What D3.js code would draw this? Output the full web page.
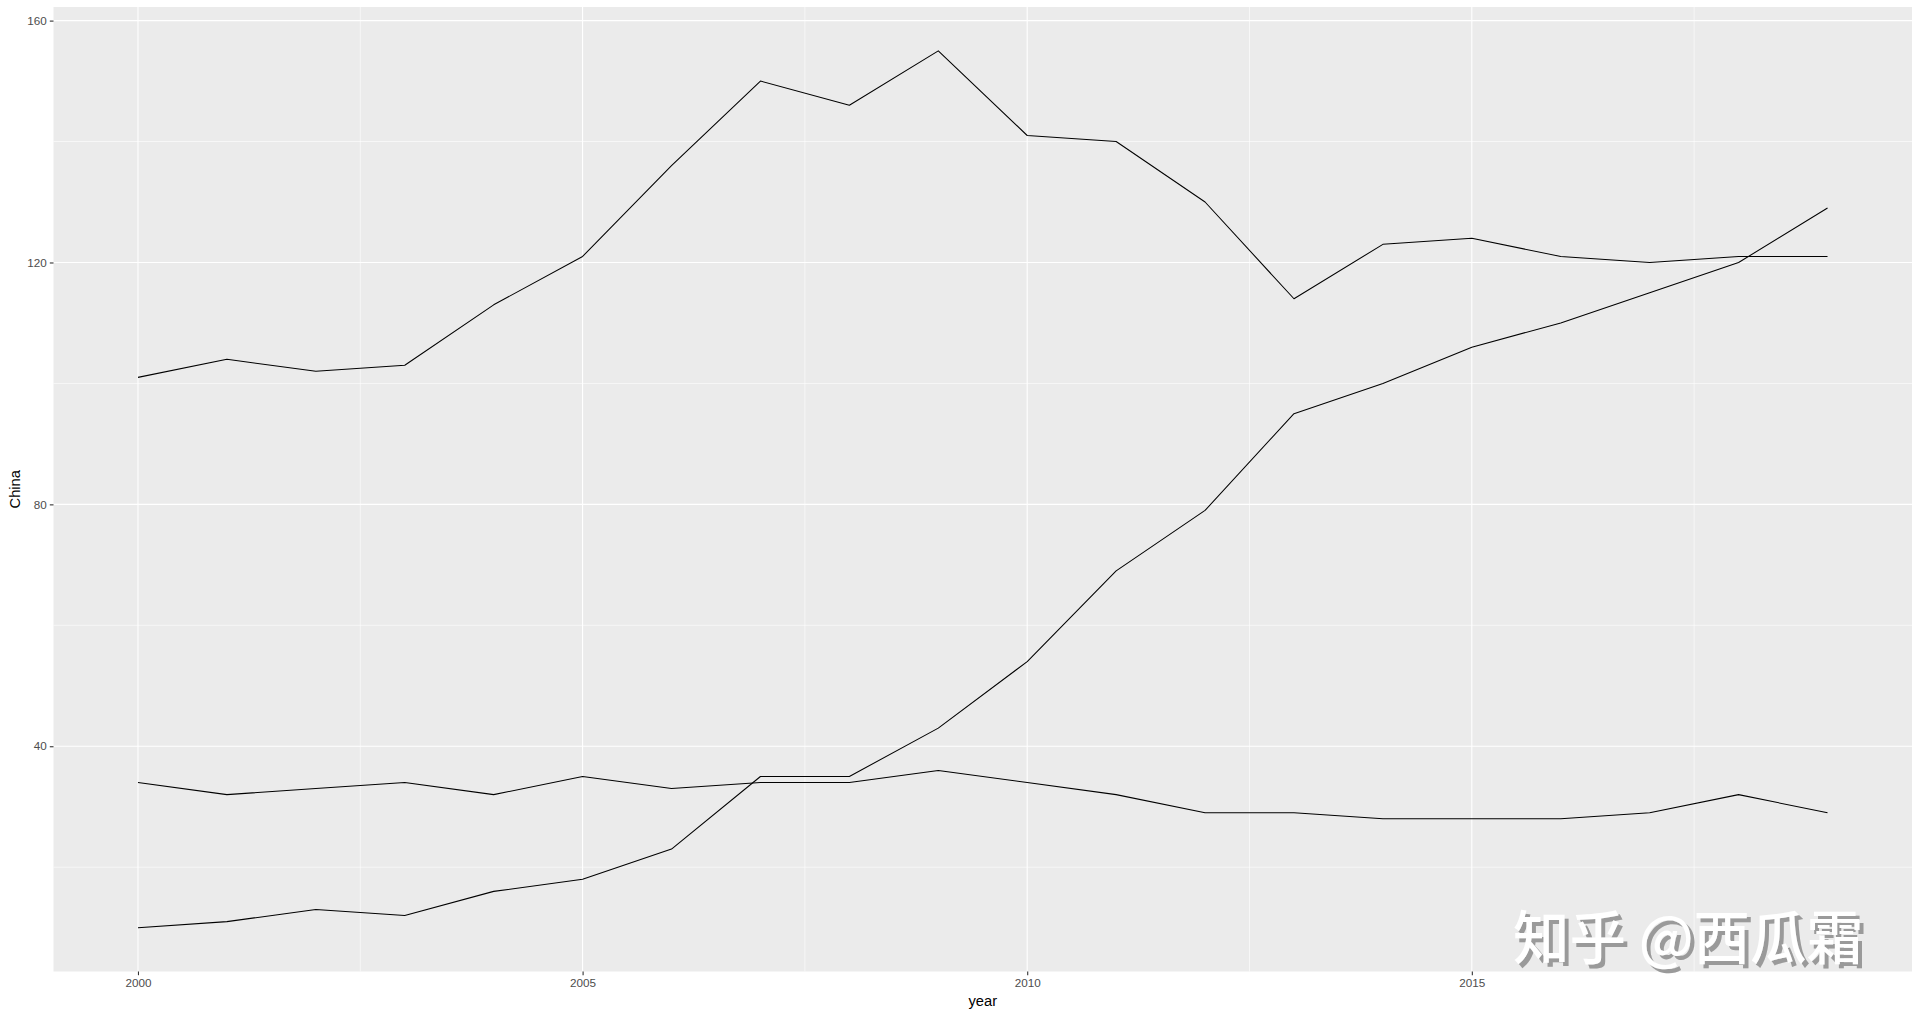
<!DOCTYPE html>
<html>
<head>
<meta charset="utf-8">
<script src="https://cdn.jsdelivr.net/npm/d3@7"></script>
<style>
  html, body { margin: 0; padding: 0; background: #fff; }
  svg { display: block; }
</style>
</head>
<body>
<svg id="chart" width="1920" height="1017"></svg>
<script>
const years = [2000,2001,2002,2003,2004,2005,2006,2007,2008,2009,2010,2011,2012,2013,2014,2015,2016,2017,2018,2019];
const seriesA = [101,104,102,103,113,121,136,150,146,155,141,140,130,114,123,124,121,120,121,121];
const seriesB = [10,11,13,12,16,18,23,35,35,43,54,69,79,95,100,106,110,115,120,129];
const seriesC = [34,32,33,34,32,35,33,34,34,36,34,32,29,29,28,28,28,29,32,29];
const xTicks = [2000,2005,2010,2015];
const xMinor = [2002.5,2007.5,2012.5,2017.5];
const yTicks = [40,80,120,160];
const yMinor = [20,60,100,140];
const xTitle = "year";
const yTitle = "China";
const watermark = "知乎 @西瓜霜";

const svg = d3.select("#chart");
const panel = {left: 53.5, top: 7, right: 1912, bottom: 971.5};

const defs = svg.append("defs");
const f = defs.append("filter").attr("id", "wmshadow").attr("x", "-10%").attr("y", "-20%").attr("width", "130%").attr("height", "150%");
f.append("feDropShadow").attr("dx", 4).attr("dy", 4).attr("stdDeviation", 0).attr("flood-color", "#9a9a9a").attr("flood-opacity", 1);

// ggplot-style 5% expansion
const allVals = seriesA.concat(seriesB, seriesC);
const yMin = d3.min(allVals), yMax = d3.max(allVals);
const yPad = (yMax - yMin) * 0.05;
const xPad = (d3.max(years) - d3.min(years)) * 0.05;

const x = d3.scaleLinear().domain([d3.min(years) - xPad, d3.max(years) + xPad]).range([panel.left, panel.right]);
const y = d3.scaleLinear().domain([yMin - yPad, yMax + yPad]).range([panel.bottom, panel.top]);

svg.append("rect").attr("x", panel.left).attr("y", panel.top)
  .attr("width", panel.right - panel.left).attr("height", panel.bottom - panel.top)
  .attr("fill", "#EBEBEB");

const grid = svg.append("g");
grid.selectAll(".ymin").data(yMinor).join("line")
  .attr("x1", panel.left).attr("x2", panel.right)
  .attr("y1", d => y(d)).attr("y2", d => y(d))
  .attr("stroke", "#fff").attr("stroke-width", 0.6);
grid.selectAll(".xmin").data(xMinor).join("line")
  .attr("y1", panel.top).attr("y2", panel.bottom)
  .attr("x1", d => x(d)).attr("x2", d => x(d))
  .attr("stroke", "#fff").attr("stroke-width", 0.6);
grid.selectAll(".ymaj").data(yTicks).join("line")
  .attr("x1", panel.left).attr("x2", panel.right)
  .attr("y1", d => y(d)).attr("y2", d => y(d))
  .attr("stroke", "#fff").attr("stroke-width", 1.1);
grid.selectAll(".xmaj").data(xTicks).join("line")
  .attr("y1", panel.top).attr("y2", panel.bottom)
  .attr("x1", d => x(d)).attr("x2", d => x(d))
  .attr("stroke", "#fff").attr("stroke-width", 1.1);

const line = d3.line().x((d, i) => x(years[i])).y(d => y(d));
[seriesA, seriesB, seriesC].forEach(s => {
  svg.append("path").datum(s).attr("d", line)
    .attr("fill", "none").attr("stroke", "#000").attr("stroke-width", 1.05)
    .attr("stroke-linejoin", "round");
});

// axes
const font = "'Liberation Sans', Arial, sans-serif";
const xAxis = d3.axisBottom(x).tickValues(xTicks).tickFormat(d3.format("d")).tickSize(3.7).tickPadding(3);
const gx = svg.append("g").attr("transform", `translate(0,${panel.bottom})`).call(xAxis);
gx.select(".domain").remove();
gx.selectAll("line").attr("stroke", "#333").attr("stroke-width", 1.1);
gx.selectAll("text").attr("fill", "#4D4D4D").style("font-family", font).style("font-size", "11.7px");

const yAxis = d3.axisLeft(y).tickValues(yTicks).tickSize(3.7).tickPadding(3);
const gy = svg.append("g").attr("transform", `translate(${panel.left},0)`).call(yAxis);
gy.select(".domain").remove();
gy.selectAll("line").attr("stroke", "#333").attr("stroke-width", 1.1);
gy.selectAll("text").attr("fill", "#4D4D4D").style("font-family", font).style("font-size", "11.7px");

svg.append("text").attr("x", (panel.left + panel.right) / 2).attr("y", 1006)
  .attr("text-anchor", "middle").style("font-family", font).style("font-size", "14.7px")
  .attr("fill", "#000").text(xTitle);
svg.append("text").attr("transform", `translate(20,${(panel.top + panel.bottom) / 2}) rotate(-90)`)
  .attr("text-anchor", "middle").style("font-family", font).style("font-size", "14.7px")
  .attr("fill", "#000").text(yTitle);

// watermark (white text with grey drop shadow)
svg.append("text").attr("x", 1513).attr("y", 959)
  .style("font-family", "'Noto Sans CJK SC', sans-serif")
  .style("font-size", "58px").style("font-weight", 500)
  .attr("textLength", 350).attr("lengthAdjust", "spacingAndGlyphs")
  .attr("fill", "#ffffff").attr("filter", "url(#wmshadow)")
  .text(watermark);
</script>
</body>
</html>
